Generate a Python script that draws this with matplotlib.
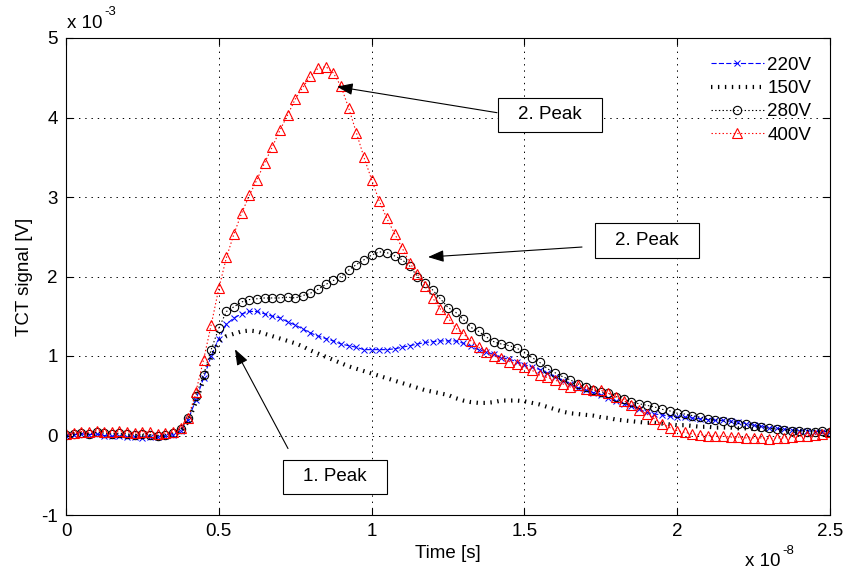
import numpy as np
import matplotlib
matplotlib.use("Agg")
import matplotlib.pyplot as plt
from matplotlib.patches import Rectangle

plt.rcParams['font.family'] = ['Liberation Sans', 'DejaVu Sans']
plt.rcParams['lines.scale_dashes'] = False

# time axis in units of 1e-8 s (sampling grid, 101 samples)
time = np.linspace(0.0, 2.5, 101)

# signals in units of 1e-3 V
v220 = [0.00, 0.01, 0.02, 0.01, 0.02, 0.00, -0.01, -0.01, -0.02, -0.02,
        -0.03, -0.02, -0.02, -0.01, 0.01, 0.06, 0.20, 0.45, 0.72, 1.00,
        1.22, 1.40, 1.48, 1.53, 1.56, 1.56, 1.53, 1.50, 1.48, 1.43,
        1.39, 1.34, 1.29, 1.25, 1.22, 1.19, 1.15, 1.13, 1.11, 1.08,
        1.08, 1.08, 1.08, 1.09, 1.11, 1.13, 1.15, 1.17, 1.18, 1.19,
        1.19, 1.19, 1.16, 1.12, 1.08, 1.05, 1.02, 0.98, 0.96, 0.93,
        0.89, 0.86, 0.83, 0.78, 0.74, 0.69, 0.65, 0.60, 0.57, 0.54,
        0.51, 0.47, 0.43, 0.40, 0.37, 0.33, 0.29, 0.27, 0.26, 0.24,
        0.23, 0.23, 0.22, 0.21, 0.20, 0.19, 0.19, 0.18, 0.17, 0.15,
        0.13, 0.12, 0.10, 0.09, 0.08, 0.07, 0.06, 0.06, 0.05, 0.05,
        0.05]

v150 = [0.01, 0.02, 0.02, 0.01, 0.02, 0.01, 0.00, 0.00, -0.01, -0.01,
        -0.01, -0.01, -0.02, -0.01, 0.01, 0.05, 0.18, 0.42, 0.70, 0.98,
        1.18, 1.25, 1.28, 1.31, 1.32, 1.31, 1.28, 1.25, 1.22, 1.19,
        1.16, 1.12, 1.07, 1.03, 0.99, 0.95, 0.91, 0.87, 0.84, 0.81,
        0.78, 0.75, 0.72, 0.69, 0.66, 0.63, 0.60, 0.57, 0.55, 0.53,
        0.51, 0.47, 0.44, 0.42, 0.41, 0.41, 0.42, 0.44, 0.44, 0.44,
        0.43, 0.41, 0.39, 0.36, 0.33, 0.30, 0.28, 0.27, 0.26, 0.25,
        0.23, 0.22, 0.20, 0.19, 0.18, 0.17, 0.16, 0.16, 0.15, 0.14,
        0.13, 0.13, 0.12, 0.11, 0.11, 0.10, 0.10, 0.10, 0.09, 0.09,
        0.08, 0.08, 0.07, 0.07, 0.06, 0.06, 0.06, 0.05, 0.05, 0.05,
        0.05]

v280 = [0.01, 0.02, 0.03, 0.02, 0.04, 0.03, 0.02, 0.03, 0.02, 0.01,
        0.02, 0.01, 0.00, 0.01, 0.03, 0.08, 0.22, 0.50, 0.76, 1.08,
        1.35, 1.56, 1.62, 1.68, 1.71, 1.72, 1.73, 1.73, 1.73, 1.74,
        1.73, 1.76, 1.79, 1.84, 1.90, 1.95, 2.00, 2.08, 2.15, 2.21,
        2.27, 2.31, 2.30, 2.26, 2.21, 2.13, 2.00, 1.92, 1.83, 1.72,
        1.61, 1.55, 1.46, 1.36, 1.31, 1.24, 1.18, 1.15, 1.13, 1.10,
        1.04, 0.98, 0.92, 0.84, 0.79, 0.74, 0.70, 0.65, 0.61, 0.57,
        0.55, 0.53, 0.49, 0.46, 0.42, 0.40, 0.38, 0.36, 0.33, 0.31,
        0.28, 0.27, 0.25, 0.23, 0.21, 0.20, 0.18, 0.17, 0.15, 0.14,
        0.12, 0.11, 0.09, 0.08, 0.07, 0.06, 0.06, 0.05, 0.05, 0.06,
        0.05]

v400 = [0.02, 0.03, 0.05, 0.04, 0.06, 0.05, 0.04, 0.06, 0.05, 0.03,
        0.05, 0.04, 0.02, 0.03, 0.04, 0.09, 0.22, 0.55, 0.95, 1.39,
        1.85, 2.24, 2.54, 2.80, 3.02, 3.22, 3.43, 3.63, 3.84, 4.03,
        4.23, 4.38, 4.52, 4.62, 4.64, 4.56, 4.39, 4.12, 3.81, 3.50,
        3.22, 2.95, 2.73, 2.54, 2.36, 2.17, 2.03, 1.88, 1.73, 1.59,
        1.48, 1.35, 1.28, 1.19, 1.11, 1.05, 1.00, 0.97, 0.93, 0.90,
        0.86, 0.82, 0.76, 0.73, 0.70, 0.65, 0.61, 0.63, 0.59, 0.57,
        0.57, 0.53, 0.48, 0.44, 0.38, 0.32, 0.27, 0.21, 0.15, 0.10,
        0.06, 0.04, 0.02, 0.01, 0.00, -0.01, -0.01, -0.02, -0.02, -0.03,
        -0.03, -0.03, -0.04, -0.03, -0.03, -0.02, -0.01, 0.00, 0.01, 0.02,
        0.04]

labels = ['220V', '150V', '280V', '400V']
xticks = [0, 0.5, 1, 1.5, 2, 2.5]
xticklabels = ['0', '0.5', '1', '1.5', '2', '2.5']
yticks = [-1, 0, 1, 2, 3, 4, 5]
yticklabels = ['-1', '0', '1', '2', '3', '4', '5']

W, H = 847, 575
fig = plt.figure(figsize=(W / 100, H / 100), dpi=100)
L, R, B, T = 66, 830, 515, 38
ax = fig.add_axes([L / W, 1 - B / H, (R - L) / W, (B - T) / H])

FS = 13.5

ax.plot(time, v220, color=(0, 0, 1), linestyle='--', linewidth=0.8,
        marker='x', markersize=4, markeredgewidth=0.7, label=labels[0])
ax.plot(time, v150, color='black', linestyle=(0, (1.0, 4.0)), linewidth=3.0,
        dash_capstyle='butt', label=labels[1])
ax.plot(time, v280, color='black', linestyle=':', linewidth=0.8,
        marker='o', markersize=6, markerfacecolor='none', markeredgewidth=0.8,
        label=labels[2])
ax.plot(time, v400, color=(1, 0, 0), linestyle=':', linewidth=0.8,
        marker='^', markersize=7, markerfacecolor='none', markeredgewidth=0.8,
        label=labels[3])

ax.set_xlim(0, 2.5)
ax.set_ylim(-1, 5)
ax.set_xticks(xticks)
ax.set_xticklabels(xticklabels)
ax.set_yticks(yticks)
ax.set_yticklabels(yticklabels)
ax.tick_params(direction='in', length=5, width=0.8, top=True, right=True,
               labelsize=FS, pad=6)
ax.grid(True, color='black', linestyle=(0, (1, 3.5)), linewidth=0.7)
for s in ax.spines.values():
    s.set_linewidth(0.8)

ax.set_xlabel('Time [s]', fontsize=FS, labelpad=3)
ax.set_ylabel('TCT signal [V]', fontsize=FS, labelpad=6)

# scale factors (offset texts)
fig.text(67 / W, 1 - 23 / H, 'x 10', fontsize=FS, ha='left', va='center')
fig.text(104 / W, 1 - 12 / H, '-3', fontsize=FS * 0.7, ha='left', va='center')
fig.text(745 / W, 1 - 562 / H, 'x 10', fontsize=FS, ha='left', va='center')
fig.text(782 / W, 1 - 551 / H, '-8', fontsize=FS * 0.7, ha='left', va='center')

leg = ax.legend(loc='upper right', frameon=False, fontsize=FS, handlelength=2.8,
                handletextpad=0.2, labelspacing=0.33, borderaxespad=0.6)

def px2data(px, py):
    return ((px - L) / (R - L) * 2.5, (435 - py) / 79.3)

boxes = [
    ('2. Peak', (498, 98, 602, 132), (497, 113), (337, 87)),
    ('2. Peak', (595, 223, 699, 258), (582, 247), (428, 257)),
    ('1. Peak', (283, 459, 387, 493), (288, 448), (235, 349)),
]
for txt, (x0, y0, x1, y1), tail, head in boxes:
    dx0, dy0 = px2data(x0, y1)
    dx1, dy1 = px2data(x1, y0)
    ax.add_patch(Rectangle((dx0, dy0), dx1 - dx0, dy1 - dy0, facecolor='white',
                           edgecolor='black', linewidth=0.8, zorder=5))
    ax.text((dx0 + dx1) / 2, (dy0 + dy1) / 2, txt, fontsize=FS, ha='center',
            va='center', zorder=6)
    ax.annotate('', xy=px2data(*head), xytext=px2data(*tail),
                arrowprops=dict(arrowstyle='-|>,head_length=0.8,head_width=0.3',
                                color='black', linewidth=0.8, shrinkA=0, shrinkB=0,
                                mutation_scale=12), zorder=6)

fig.savefig('out.png', dpi=100)
